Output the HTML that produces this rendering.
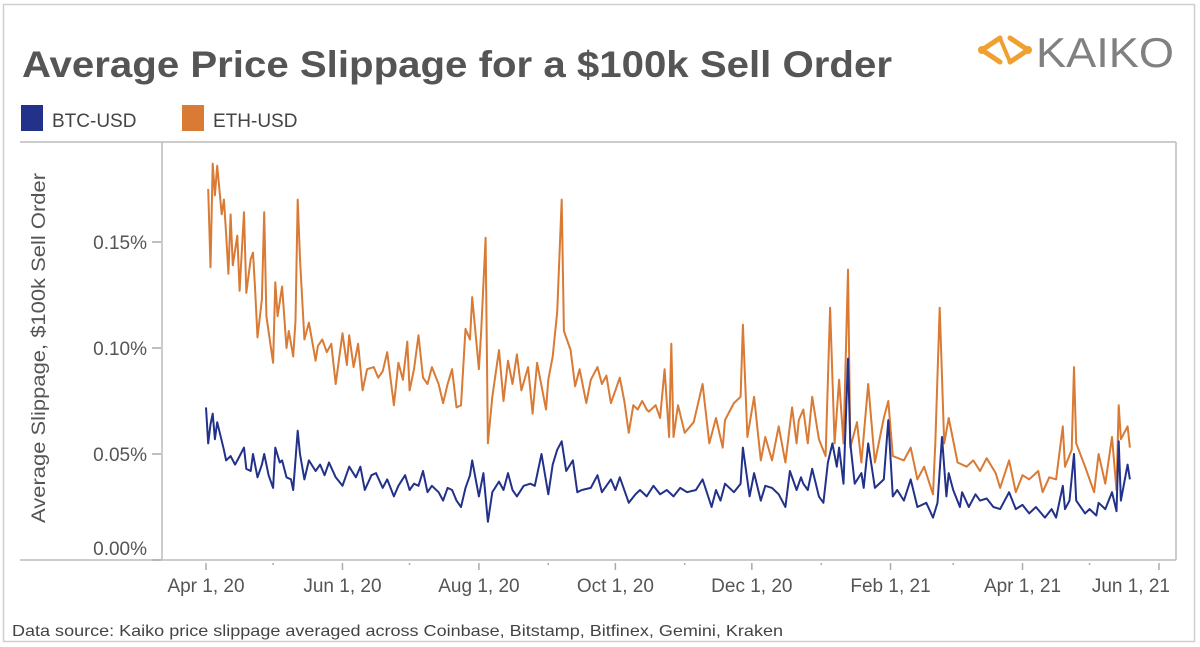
<!DOCTYPE html>
<html><head><meta charset="utf-8"><style>
html,body{margin:0;padding:0;background:#fff;}
svg{display:block;font-family:"Liberation Sans",sans-serif;}
</style></head><body>
<svg id="chart" width="1200" height="647" viewBox="0 0 1200 647" xmlns="http://www.w3.org/2000/svg">
<rect x="3.5" y="4.5" width="1191" height="637" fill="#fff" stroke="#cfcfcf" stroke-width="1.5"/>
<text x="22" y="77" font-size="37" font-weight="bold" fill="#555" textLength="870" lengthAdjust="spacingAndGlyphs">Average Price Slippage for a $100k Sell Order</text>
<g>
<path d="M1000 38 L982 50 L1000 62 M1010 38 L1028 50 L1010 62" stroke="#f0a030" stroke-width="5" fill="none" stroke-linecap="round"/>
<path d="M1000 38 L1010 62" stroke="#f0a030" stroke-width="4" fill="none"/>
<circle cx="982" cy="50" r="4" fill="#f0a030"/><circle cx="1028" cy="50" r="4" fill="#f0a030"/>
<text x="1036" y="67" font-size="42" fill="#808080" textLength="138" lengthAdjust="spacingAndGlyphs">KAIKO</text>
</g>
<g>
<rect x="21" y="105" width="22" height="26" fill="#22318a"/>
<text x="52" y="127" font-size="19" fill="#444">BTC-USD</text>
<rect x="182" y="105" width="22" height="26" fill="#d97a35"/>
<text x="213" y="127" font-size="19" fill="#444">ETH-USD</text>
</g>
<g stroke="#bbb" stroke-width="1.5" fill="none">
<line x1="20" y1="142" x2="1176" y2="142"/>
<line x1="20" y1="560" x2="1176" y2="560"/>
<line x1="162" y1="142" x2="162" y2="560"/>
<line x1="1176" y1="142" x2="1176" y2="560"/>
</g>
<text transform="translate(45,348) rotate(-90)" text-anchor="middle" font-size="19" fill="#555" textLength="350" lengthAdjust="spacingAndGlyphs">Average Slippage, $100k Sell Order</text>
<g id="yaxis"></g>
<g id="xaxis"></g>
<g id="series"></g>
<text x="12" y="636" font-size="16" fill="#444" textLength="771" lengthAdjust="spacingAndGlyphs">Data source: Kaiko price slippage averaged across Coinbase, Bitstamp, Bitfinex, Gemini, Kraken</text>
</svg>
<script>
const yTicks=[0,0.05,0.10,0.15];
const yTickLabels=["0.00%","0.05%","0.10%","0.15%"];
const xTickDays=[0,61,122,183,244,306,365,426];
const xTickLabels=["Apr 1, 20","Jun 1, 20","Aug 1, 20","Oct 1, 20","Dec 1, 20","Feb 1, 21","Apr 1, 21","Jun 1, 21"];
const xMinorDays=[30,91,153,214,275,334,395];
const ethDays=[1,2,3,4,5,7,8,9,10,11,12,14,15,17,18,20,21,22,23,25,26,27,30,31,32,34,36,37,39,40,41,42,44,46,49,50,52,54,56,58,61,63,64,66,68,70,72,75,77,79,81,84,86,88,90,91,93,95,97,99,101,104,106,108,110,112,114,116,118,119,122,123,125,126,128,131,133,135,137,139,141,144,146,148,152,153,155,157,159,160,163,165,167,170,172,175,177,179,181,183,185,187,189,191,193,195,197,198,201,203,205,207,208,209,211,214,218,222,225,228,231,232,236,239,240,242,245,248,250,253,256,259,262,264,265,267,269,271,274,277,279,281,283,285,287,288,291,293,296,299,303,305,307,312,315,318,321,325,326,328,330,332,336,340,343,346,349,353,355,359,362,365,368,372,374,377,380,383,384,387,388,389,393,397,399,402,405,407,408,409,412,413];
const ethValues=[.175,.138,.187,.172,.186,.163,.170,.154,.135,.163,.139,.153,.127,.164,.126,.142,.145,.127,.105,.123,.164,.115,.093,.131,.115,.129,.100,.108,.096,.113,.170,.142,.104,.112,.094,.101,.104,.098,.102,.083,.107,.092,.106,.091,.102,.080,.090,.091,.086,.089,.098,.073,.093,.085,.103,.080,.090,.106,.086,.083,.091,.083,.074,.083,.090,.072,.073,.109,.104,.124,.090,.108,.152,.055,.077,.099,.075,.094,.083,.097,.080,.091,.069,.093,.071,.085,.096,.117,.170,.108,.099,.082,.090,.074,.085,.091,.083,.087,.074,.080,.086,.075,.060,.073,.071,.075,.071,.070,.073,.067,.090,.058,.102,.058,.073,.060,.065,.083,.055,.067,.053,.066,.074,.077,.111,.058,.077,.047,.058,.047,.063,.046,.072,.055,.066,.071,.055,.077,.057,.049,.119,.055,.085,.055,.137,.053,.065,.046,.083,.046,.067,.075,.049,.047,.053,.038,.044,.031,.055,.119,.055,.067,.046,.044,.047,.042,.048,.041,.034,.047,.032,.040,.038,.042,.032,.039,.038,.063,.044,.052,.091,.055,.044,.032,.050,.036,.058,.033,.073,.057,.063,.053];
const btcDays=[0,1,2,3,4,5,8,9,11,13,15,17,18,20,21,23,25,26,28,30,31,33,34,36,38,39,41,42,44,46,49,51,53,55,58,61,64,67,69,71,74,76,79,81,84,86,89,91,93,95,97,99,101,104,106,108,110,112,114,116,118,119,122,124,126,128,131,133,135,137,139,142,145,147,150,153,155,157,159,161,164,166,168,172,175,177,181,183,185,189,192,194,197,200,203,206,209,212,215,219,222,226,228,230,232,236,239,240,243,245,248,250,253,256,259,261,264,266,267,269,271,274,276,278,280,282,283,285,287,288,290,293,294,296,299,303,305,307,309,312,315,318,322,325,327,329,331,332,334,337,338,341,344,346,349,352,355,359,362,365,368,371,375,378,380,383,384,386,388,389,393,395,398,399,402,405,407,408,409,412,413];
const btcValues=[.072,.055,.064,.069,.057,.065,.052,.047,.049,.045,.049,.053,.043,.042,.050,.039,.045,.050,.040,.034,.053,.046,.047,.039,.038,.033,.061,.050,.038,.047,.042,.045,.040,.046,.039,.035,.044,.039,.044,.033,.040,.041,.034,.038,.030,.035,.040,.033,.036,.035,.042,.032,.035,.032,.028,.034,.033,.028,.025,.034,.040,.047,.030,.041,.018,.032,.037,.033,.041,.033,.030,.035,.036,.035,.050,.031,.045,.052,.056,.042,.047,.032,.033,.034,.040,.032,.038,.033,.039,.027,.031,.033,.030,.035,.031,.033,.030,.034,.032,.033,.038,.025,.033,.028,.036,.032,.036,.053,.030,.041,.028,.035,.034,.031,.025,.042,.033,.039,.036,.033,.043,.030,.027,.046,.055,.044,.053,.036,.095,.055,.036,.041,.034,.055,.034,.038,.066,.030,.033,.028,.038,.025,.027,.020,.027,.058,.030,.041,.033,.025,.032,.025,.031,.028,.029,.025,.024,.032,.024,.026,.022,.025,.020,.024,.020,.035,.024,.028,.050,.028,.022,.024,.021,.027,.024,.032,.023,.056,.028,.045,.038];

const NS="http://www.w3.org/2000/svg";
function xScale(d){return 206+d*2.237;}
function yScale(v){return 560-v*2120;}
const yAxis=document.getElementById('yaxis');
yTicks.forEach((t,i)=>{
  const y=yScale(t);
  const ln=document.createElementNS(NS,'line');
  
  
  ln.setAttribute('x1',152);ln.setAttribute('x2',161);ln.setAttribute('y1',y);ln.setAttribute('y2',y);
  ln.setAttribute('stroke','#aaa');ln.setAttribute('stroke-width','1.5');
  yAxis.appendChild(ln);
  const tx=document.createElementNS(NS,'text');
  
  
  tx.setAttribute('x',147);tx.setAttribute('y',t===0?555:y+7);
  tx.setAttribute('text-anchor','end');tx.setAttribute('font-size','19');tx.setAttribute('fill','#555');
  tx.textContent=yTickLabels[i];
  yAxis.appendChild(tx);
});
const xAxis=document.getElementById('xaxis');
xTickDays.forEach((d,i)=>{
  const x=xScale(d);
  const ln=document.createElementNS(NS,'line');
  
  
  ln.setAttribute('x1',x);ln.setAttribute('x2',x);ln.setAttribute('y1',563);ln.setAttribute('y2',570);
  ln.setAttribute('stroke','#aaa');ln.setAttribute('stroke-width','1.5');
  xAxis.appendChild(ln);
  const tx=document.createElementNS(NS,'text');
  
  
  const last=i===xTickDays.length-1;
  tx.setAttribute('x',last?1170:x);tx.setAttribute('y',592);
  tx.setAttribute('text-anchor',last?'end':'middle');tx.setAttribute('font-size','19');tx.setAttribute('fill','#555');
  tx.textContent=xTickLabels[i];
  xAxis.appendChild(tx);
});
xMinorDays.forEach(d=>{
  const x=xScale(d);
  const ln=document.createElementNS(NS,'line');
  
  
  ln.setAttribute('x1',x);ln.setAttribute('x2',x);ln.setAttribute('y1',563);ln.setAttribute('y2',565);
  ln.setAttribute('stroke','#aaa');ln.setAttribute('stroke-width','1.5');
  xAxis.appendChild(ln);
});
function drawLine(days,vals,color,name){
  const p=document.createElementNS(NS,'path');
  
  
  p.setAttribute('d',days.map((d,i)=>(i?'L':'M')+xScale(d).toFixed(1)+' '+yScale(vals[i]).toFixed(1)).join(' '));
  p.setAttribute('fill','none');p.setAttribute('stroke',color);p.setAttribute('stroke-width','2');
  p.setAttribute('stroke-linejoin','round');
  document.getElementById('series').appendChild(p);
}
drawLine(ethDays,ethValues,'#d97a35','eth-usd-line');
drawLine(btcDays,btcValues,'#22318a','btc-usd-line');
</script>
</body></html>
